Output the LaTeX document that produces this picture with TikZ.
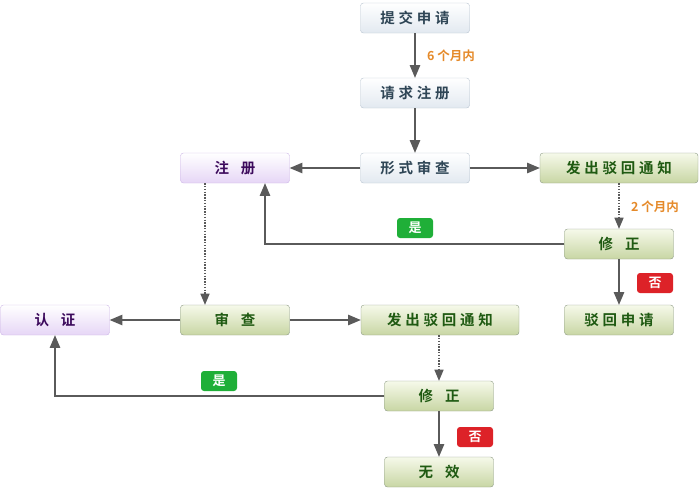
\documentclass[tikz,border=0pt]{standalone}
\usepackage{fontspec}
\usepackage{xcolor}
\usetikzlibrary{arrows}
\newfontfamily\cjk[LetterSpace=26]{Noto Sans CJK SC Bold}
\newfontfamily\cjklabel{Noto Sans CJK SC Bold}
\definecolor{boxgrey}{HTML}{B8C4D0}
\definecolor{greyfill}{HTML}{E2E9F0}
\definecolor{greytext}{HTML}{2F4656}
\definecolor{purpleline}{HTML}{CDB6E6}
\definecolor{purplefill}{HTML}{E6D6F6}
\definecolor{purpletext}{HTML}{3C0A5C}
\definecolor{greenline}{HTML}{8C9A84}
\definecolor{greenfill}{HTML}{C8D6A4}
\definecolor{greentop}{HTML}{F6F9EA}
\definecolor{greentext}{HTML}{1F5A12}
\definecolor{linegrey}{HTML}{5A5A5A}
\definecolor{orangetext}{HTML}{E58A2A}
\definecolor{yesgreen}{HTML}{1FAF38}
\definecolor{nored}{HTML}{DD2228}
\tikzstyle{box} = [rounded corners=3pt, minimum width=109pt, minimum height=30pt, inner sep=0pt, font=\cjk\fontsize{14.5}{14.5}\selectfont]
\tikzstyle{greybox} = [box, draw=boxgrey, top color=white, bottom color=greyfill, text=greytext]
\tikzstyle{purplebox} = [box, draw=purpleline, top color=white, bottom color=purplefill, text=purpletext]
\tikzstyle{greenbox} = [box, draw=greenline, top color=greentop, bottom color=greenfill, text=greentext]
\tikzstyle{wide} = [minimum width=158pt]
\tikzstyle{arrow} = [line width=2pt, draw=linegrey, -triangle 45]
\tikzstyle{dotarrow} = [line width=1.6pt, draw=linegrey, dash pattern=on 1.4pt off 1.4pt, -triangle 45]
\tikzstyle{badge} = [rounded corners=3pt, minimum width=36pt, minimum height=20pt, inner sep=0pt, text=white, font=\cjklabel\fontsize{13}{13}\selectfont]
\tikzstyle{period} = [text=orangetext, font=\cjklabel\fontsize{12.5}{12.5}\selectfont]

\begin{document}
\begin{tikzpicture}[x=1pt,y=-1pt]
    \useasboundingbox (0,0) rectangle (700,491);
    % main column
    \node[greybox] (tj) at (415,18) {提交申请};
    \node[greybox] (qq) at (415,93) {请求注册};
    \node[greybox] (xs) at (415,168) {形式审查};
    \node[purplebox] (zc) at (235,168) {注\hspace{12pt}册};
    \node[greenbox,wide] (bh1) at (619,168) {发出驳回通知};
    \node[greenbox] (xz1) at (619,244) {修\hspace{12pt}正};
    \node[greenbox] (bs) at (619,320) {驳回申请};
    % lower part
    \node[purplebox] (rz) at (55,320) {认\hspace{12pt}证};
    \node[greenbox] (sc) at (235,320) {审\hspace{12pt}查};
    \node[greenbox,wide] (bh2) at (440,320) {发出驳回通知};
    \node[greenbox] (xz2) at (439,396) {修\hspace{12pt}正};
    \node[greenbox] (wx) at (439,472) {无\hspace{12pt}效};
    % labels
    \node[period] (t6) at (451,56) {6 个月内};
    \node[period] (t2) at (655,207) {2 个月内};
    \node[badge,fill=yesgreen] (yes1) at (415,228) {是};
    \node[badge,fill=nored] (no1) at (655,283) {否};
    \node[badge,fill=yesgreen] (yes2) at (219,381) {是};
    \node[badge,fill=nored] (no2) at (475,437) {否};
    % connectors
    \draw[arrow] (tj) -- (qq);
    \draw[arrow] (qq) -- (xs);
    \draw[arrow] (xs) -- (zc);
    \draw[arrow] (xs) -- (bh1);
    \draw[dotarrow] (bh1) -- (xz1);
    \draw[arrow] (xz1.west) -| ([xshift=30pt]zc.south);
    \draw[arrow] (xz1) -- (bs);
    \draw[dotarrow] ([xshift=-30pt]zc.south) -- ([xshift=-30pt]sc.north);
    \draw[arrow] (sc) -- (rz);
    \draw[arrow] (sc) -- (bh2);
    \draw[dotarrow] ([xshift=-1pt]bh2.south) -- (xz2.north);
    \draw[arrow] (xz2.west) -| (rz.south);
    \draw[arrow] (xz2) -- (wx);
\end{tikzpicture}
\end{document}
